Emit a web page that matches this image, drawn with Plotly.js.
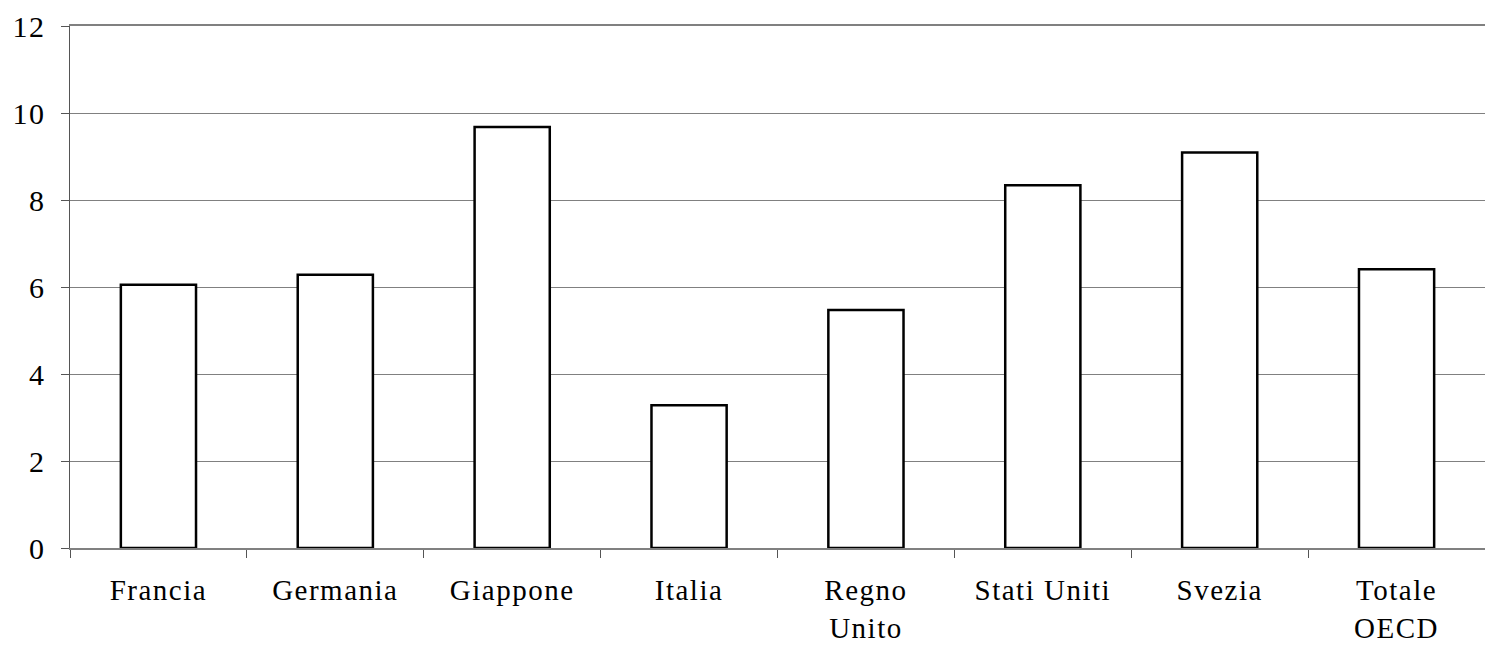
<!DOCTYPE html>
<html>
<head>
<meta charset="utf-8">
<script src="https://cdn.plot.ly/plotly-3.0.1.min.js"></script>
<style>
  html, body { margin: 0; padding: 0; background: #fff; }
  #chart { width: 1485px; height: 648px; }
  .xtick text, .ytick text { letter-spacing: 1.5px; }
</style>
</head>
<body>
<div id="chart"></div>
<script>
// Paesi / aggregati
const categories = ["Francia", "Germania", "Giappone", "Italia", "Regno<br>Unito", "Stati Uniti", "Svezia", "Totale<br>OECD"];
// Valori per paese
const values = [6.05, 6.28, 9.68, 3.28, 5.47, 8.34, 9.09, 6.41];
// Etichette asse verticale
const yTicks = [0, 2, 4, 6, 8, 10, 12];

const serif = "Liberation Serif, Times New Roman, serif";

const trace = {
  type: "bar",
  x: categories,
  y: values,
  marker: { color: "#ffffff", line: { color: "#000000", width: 2.5 } },
  hoverinfo: "x+y"
};

const layout = {
  width: 1485,
  height: 648,
  margin: { l: 70, r: 0, t: 26, b: 100 },
  paper_bgcolor: "#ffffff",
  plot_bgcolor: "#ffffff",
  showlegend: false,
  bargap: 0.575,
  font: { family: serif, size: 29, color: "#000000" },
  xaxis: {
    type: "category",
    tickson: "boundaries",
    ticks: "outside",
    ticklen: 8,
    tickcolor: "#555555",
    tickwidth: 1,
    showline: true,
    mirror: true,
    linecolor: "#808080",
    linewidth: 2,
    showgrid: false,
    ticklabelstandoff: 15,
    tickfont: { family: serif, size: 29, color: "#000000" }
  },
  yaxis: {
    range: [0, 12],
    tickvals: yTicks,
    ticktext: yTicks.map(String),
    ticks: "outside",
    ticklen: 8,
    tickcolor: "#555555",
    tickwidth: 1,
    showline: true,
    linecolor: "#555555",
    linewidth: 1.5,
    showgrid: true,
    gridcolor: "#808080",
    gridwidth: 1,
    zeroline: false,
    ticklabelstandoff: 9,
    tickfont: { family: serif, size: 30, color: "#000000" }
  }
};

Plotly.newPlot("chart", [trace], layout, { displayModeBar: false, staticPlot: true });
</script>
</body>
</html>
